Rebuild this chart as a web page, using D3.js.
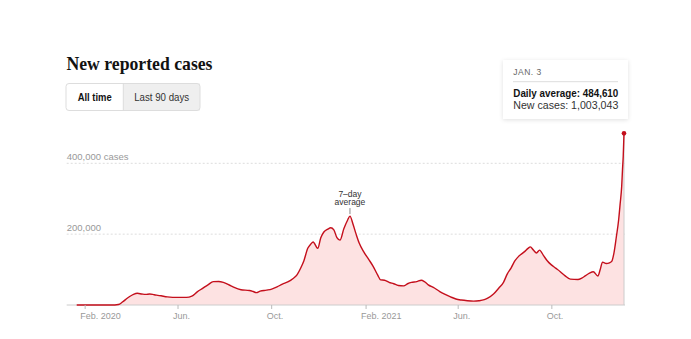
<!DOCTYPE html>
<html>
<head>
<meta charset="utf-8">
<script src="https://cdn.jsdelivr.net/npm/d3@7"></script>
<style>
  html, body { margin: 0; padding: 0; background: #fff; }
  svg { display: block; font-family: "Liberation Sans", Arial, sans-serif; }
</style>
</head>
<body>
<svg id="chart" width="691" height="339"></svg>
<script>
// ---- Data ----
const dates = [
  "2020-01-21","2020-02-15","2020-03-01","2020-03-08","2020-03-13","2020-03-17","2020-03-21","2020-03-25","2020-03-30",
  "2020-04-04","2020-04-09","2020-04-15","2020-04-20","2020-04-25","2020-05-01","2020-05-10","2020-05-18","2020-06-01",
  "2020-06-12","2020-06-19","2020-06-26","2020-07-03","2020-07-10","2020-07-17","2020-07-24","2020-07-30","2020-08-09",
  "2020-08-22","2020-09-02","2020-09-07","2020-09-11","2020-09-16","2020-09-24","2020-10-01","2020-10-08","2020-10-15",
  "2020-10-22","2020-10-29","2020-11-03","2020-11-08","2020-11-12","2020-11-17","2020-11-21","2020-11-24","2020-11-30",
  "2020-12-04","2020-12-08","2020-12-13","2020-12-17","2020-12-21","2020-12-25","2020-12-29","2021-01-03","2021-01-08",
  "2021-01-11","2021-01-15","2021-01-19","2021-01-23","2021-01-29","2021-02-04","2021-02-10","2021-02-16","2021-02-20",
  "2021-02-25","2021-03-03","2021-03-09","2021-03-15","2021-03-22","2021-03-27","2021-04-01","2021-04-08","2021-04-14",
  "2021-04-18","2021-04-23","2021-05-01","2021-05-08","2021-05-15","2021-05-22","2021-05-29","2021-06-05","2021-06-13",
  "2021-06-21","2021-06-28","2021-07-05","2021-07-10","2021-07-17","2021-07-24","2021-07-30","2021-08-04","2021-08-09",
  "2021-08-14","2021-08-19","2021-08-26","2021-08-31","2021-09-03","2021-09-07","2021-09-11","2021-09-15","2021-09-20",
  "2021-09-25","2021-09-30","2021-10-06","2021-10-12","2021-10-18","2021-10-25","2021-11-04","2021-11-09","2021-11-14",
  "2021-11-19","2021-11-24","2021-11-30","2021-12-03","2021-12-06","2021-12-11","2021-12-15","2021-12-18","2021-12-21",
  "2021-12-24","2021-12-27","2021-12-29","2021-12-31","2022-01-01","2022-01-02","2022-01-03"
];
const avgCases = [
  0,0,30,150,700,2500,9000,16000,24000,
  30000,33000,31000,30000,31000,29000,26000,23000,21500,
  21500,25000,37000,47000,57000,66000,66500,64000,54000,
  43000,41000,38000,35000,39000,42000,45000,51000,59000,
  65000,75000,85000,105000,125000,160000,172000,178000,160000,
  190000,206000,214000,218000,212000,190000,183000,215000,240000,
  251000,228000,200000,175000,150000,130000,110000,85000,71000,
  70000,64000,60000,55000,54000,60000,64000,66000,70000,
  66000,57000,48000,38000,30000,23000,17000,14000,12000,
  11000,12000,15000,20000,31000,48000,64000,88000,105000,
  125000,138000,150000,160000,164000,155000,147000,155000,140000,
  125000,114000,104000,94000,83000,73000,72000,76000,83000,
  90000,94000,82000,100000,121000,117000,119000,123000,148000,
  192000,240000,286000,335000,380000,420000,484610
];
const xTickDates = ["2020-02-01","2020-06-01","2020-10-01","2021-02-01","2021-06-01","2021-10-01"];
const xTickLabels = ["Feb. 2020","Jun.","Oct.","Feb. 2021","Jun.","Oct."];
const yTicks = [200000, 400000];
const yTickLabels = ["200,000", "400,000 cases"];
const buttonLabels = ["All time", "Last 90 days"];
const tooltipDate = "JAN. 3";
const tooltipAvg = "Daily average: 484,610";
const tooltipNew = "New cases: 1,003,043";

// ---- Chart ----
const parse = d3.timeParse("%Y-%m-%d");
const data = dates.map((d, i) => ({ date: parse(d), value: avgCases[i] }));

const svg = d3.select("#chart");
const x = d3.scaleTime().domain([parse("2020-01-21"), parse("2022-01-03")]).range([76.7, 624]);
const y = d3.scaleLinear().domain([0, 400000]).range([305, 163.3]);
const gridX0 = 66.7, gridX1 = 625;
const red = "#c40f1c";

// title
svg.append("text").attr("x", 66.5).attr("y", 69.5)
  .style("font-family", "'Liberation Serif', 'DejaVu Serif', serif")
  .attr("font-weight", "bold").attr("font-size", 19.5).attr("fill", "#121212")
  .attr("textLength", 146).attr("lengthAdjust", "spacingAndGlyphs")
  .text("New reported cases");

// buttons
const bx = 66, by = 83.5, bh = 27, split = 123.3, bw = 134;
svg.append("rect").attr("x", bx).attr("y", by).attr("width", split - bx).attr("height", bh).attr("fill", "#fff");
svg.append("rect").attr("x", split).attr("y", by).attr("width", bx + bw - split).attr("height", bh).attr("fill", "#efefef");
svg.append("rect").attr("x", bx).attr("y", by).attr("width", bw).attr("height", bh).attr("rx", 3)
  .attr("fill", "none").attr("stroke", "#ddd");
svg.append("line").attr("x1", split).attr("x2", split).attr("y1", by).attr("y2", by + bh).attr("stroke", "#ddd");
svg.append("text").attr("x", (bx + split) / 2).attr("y", 101).attr("text-anchor", "middle")
  .attr("font-size", 10.5).attr("font-weight", "bold").attr("fill", "#121212")
  .attr("textLength", 34).attr("lengthAdjust", "spacingAndGlyphs").text(buttonLabels[0]);
svg.append("text").attr("x", (split + bx + bw) / 2).attr("y", 101).attr("text-anchor", "middle")
  .attr("font-size", 10.5).attr("fill", "#333")
  .attr("textLength", 55).attr("lengthAdjust", "spacingAndGlyphs").text(buttonLabels[1]);

// gridlines
yTicks.forEach((t, i) => {
  svg.append("line").attr("x1", gridX0).attr("x2", gridX1).attr("y1", y(t)).attr("y2", y(t))
    .attr("stroke", "#ddd").attr("stroke-dasharray", "2,2");
  svg.append("text").attr("x", gridX0).attr("y", y(t) - 3.5)
    .attr("font-size", 9.5).attr("fill", "#999").text(yTickLabels[i]);
});

// area + line
const area = d3.area().x(d => x(d.date)).y0(y(0)).y1(d => y(d.value)).curve(d3.curveMonotoneX);
const line = d3.line().x(d => x(d.date)).y(d => y(d.value)).curve(d3.curveMonotoneX);
svg.append("path").datum(data).attr("d", area).attr("fill", "#fde2e2");

// baseline axis
svg.append("line").attr("x1", gridX0).attr("x2", gridX1).attr("y1", y(0)).attr("y2", y(0)).attr("stroke", "#ccc");

// hover line
const last = data[data.length - 1];
svg.append("line").attr("x1", x(last.date)).attr("x2", x(last.date))
  .attr("y1", y(last.value)).attr("y2", y(0)).attr("stroke", "#ccc");

svg.append("path").datum(data).attr("d", line).attr("fill", "none")
  .attr("stroke", red).attr("stroke-width", 1.4).attr("stroke-linejoin", "round");

// x ticks
xTickDates.forEach((d, i) => {
  const tx = x(parse(d));
  svg.append("line").attr("x1", tx).attr("x2", tx).attr("y1", y(0)).attr("y2", y(0) + 4).attr("stroke", "#bbb");
  svg.append("text").attr("x", tx - 5).attr("y", 318.5)
    .attr("font-size", 9).attr("fill", "#999").text(xTickLabels[i]);
});

// annotation
const peak = data.find(d => +d.date === +parse("2021-01-11"));
const ax = x(peak.date);
svg.append("line").attr("x1", ax).attr("x2", ax).attr("y1", y(peak.value) - 8).attr("y2", y(peak.value) - 2)
  .attr("stroke", "#888");
svg.append("text").attr("x", ax).attr("y", 196.5).attr("text-anchor", "middle")
  .attr("font-size", 8.5).attr("fill", "#333").text("7–day");
svg.append("text").attr("x", ax).attr("y", 205).attr("text-anchor", "middle")
  .attr("font-size", 8.5).attr("fill", "#333").text("average");

// end dot
svg.append("circle").attr("cx", x(last.date)).attr("cy", y(last.value)).attr("r", 2.3).attr("fill", red);

// tooltip
const defs = svg.append("defs");
const f = defs.append("filter").attr("id", "sh").attr("x", "-20%").attr("y", "-20%").attr("width", "140%").attr("height", "140%");
f.append("feDropShadow").attr("dx", 0).attr("dy", 1).attr("stdDeviation", 2).attr("flood-color", "#000").attr("flood-opacity", 0.12);
svg.append("rect").attr("x", 503).attr("y", 60).attr("width", 125).attr("height", 59)
  .attr("fill", "#fff").attr("filter", "url(#sh)");
svg.append("text").attr("x", 513.3).attr("y", 75).attr("font-size", 8.5).attr("fill", "#666")
  .attr("letter-spacing", 0.5).text(tooltipDate);
svg.append("line").attr("x1", 513).attr("x2", 618).attr("y1", 81.7).attr("y2", 81.7).attr("stroke", "#ddd");
svg.append("text").attr("x", 513.3).attr("y", 96.5).attr("font-size", 10).attr("font-weight", "bold")
  .attr("fill", "#121212").attr("textLength", 105).attr("lengthAdjust", "spacingAndGlyphs").text(tooltipAvg);
svg.append("text").attr("x", 513.3).attr("y", 109).attr("font-size", 10.3)
  .attr("fill", "#333").attr("textLength", 105).attr("lengthAdjust", "spacingAndGlyphs").text(tooltipNew);
</script>
</body>
</html>
